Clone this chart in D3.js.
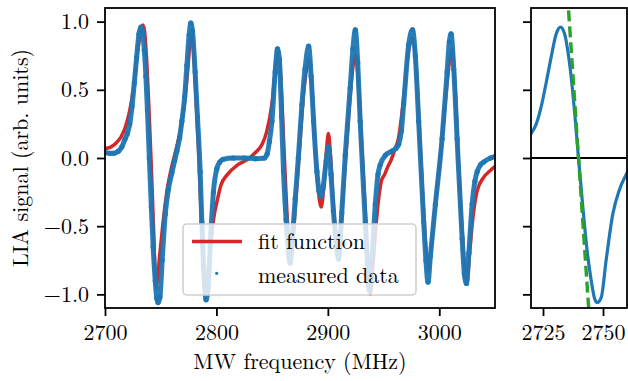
<!DOCTYPE html>
<html>
<head>
<meta charset="utf-8">
<script src="https://cdn.jsdelivr.net/npm/d3@7"></script>
<style>
  body { margin: 0; background: #fff; }
  svg { display: block; }
</style>
</head>
<body>
<div id="chart"></div>
<script>
const measFreq = [2700, 2704, 2708, 2712, 2715, 2718, 2720.1, 2722.2, 2724.3, 2726.3, 2728.4, 2730.5, 2732.3, 2734, 2735.3, 2736.7, 2738.1, 2739.8, 2741.6, 2743.2, 2745.1, 2746.5, 2747.6, 2749.3, 2751.3, 2754.1, 2756.9, 2760,
  2762.5, 2764.5, 2767, 2769, 2771.5, 2773.5, 2775.5, 2777, 2778.5, 2780.9, 2783, 2785.4, 2786.9, 2788.5, 2790.7, 2792.5, 2795, 2797.3, 2800.3, 2803, 2806, 2815, 2825, 2835, 2843,
  2845.5, 2847.5, 2849.8, 2852.7, 2854.8, 2856.5, 2858.5, 2860.2, 2862.5, 2866.2, 2868.5, 2870.7, 2873.5, 2876.7, 2879.5, 2882.7, 2885, 2887.2, 2890.2, 2892, 2894, 2896, 2898.5, 2900.7,
  2902.8, 2905, 2907.5, 2909.6, 2912.5, 2915.6, 2920, 2922.5, 2924.6, 2926.8, 2929, 2933.6, 2935.5, 2937.2, 2939.5, 2942.6, 2945, 2947, 2951.6, 2957.6, 2961, 2963.5, 2966, 2968,
  2972.5, 2976, 2978.5, 2981.5, 2986, 2988, 2989.9, 2992, 2996.5, 3002.5, 3007, 3009, 3010.6, 3013, 3016, 3020.5, 3022.5, 3024.4, 3026.5, 3029.5, 3032, 3034, 3037, 3039.9, 3046, 3050];
const measVal = [0.04, 0.035, 0.035, 0.05, 0.08, 0.14, 0.18, 0.25, 0.38, 0.55, 0.74, 0.91, 0.96, 0.91, 0.79, 0.60, 0.35, 0.0, -0.36, -0.65, -0.90, -1.03, -1.06, -1.02, -0.75, -0.41, -0.23, -0.11,
  -0.02, 0.05, 0.15, 0.27, 0.45, 0.68, 0.9, 0.99, 0.93, 0.63, 0.3, -0.10, -0.47, -0.8, -1.04, -0.95, -0.55, -0.25, -0.08, -0.03, -0.01, 0.0, 0.0, -0.005, 0.0,
  0.03, 0.12, 0.27, 0.63, 0.80, 0.72, 0.30, -0.10, -0.45, -0.77, -0.55, -0.30, 0.0, 0.39, 0.65, 0.82, 0.6, 0.27, -0.10, -0.24, -0.28, -0.2, -0.02, 0.08,
  -0.12, -0.39, -0.62, -0.74, -0.4, 0.02, 0.51, 0.80, 0.94, 0.7, 0.27, -0.47, -0.78, -0.97, -0.75, -0.34, -0.12, -0.05, 0.02, 0.05, 0.07, 0.1, 0.2, 0.39,
  0.83, 0.94, 0.75, 0.27, -0.47, -0.75, -0.91, -0.72, -0.34, 0.14, 0.63, 0.85, 0.91, 0.65, 0.14, -0.59, -0.85, -0.92, -0.7, -0.34, -0.17, -0.10, -0.05, -0.03, 0.0, 0.01];

// fit function
const fitFreq = [2700, 2705, 2710, 2714, 2718, 2722, 2726, 2729, 2732, 2734, 2735.5, 2737.5, 2739.5, 2741.5, 2743.5, 2745.8, 2747, 2749, 2752, 2756, 2760, 2764, 2768, 2771, 2774, 2776, 2777.5, 2779, 2781, 2784, 2786.5, 2788.5, 2790.2,
  2792, 2795, 2798, 2800.5, 2804, 2810, 2819, 2828, 2835, 2841, 2845, 2850, 2852.7, 2855.7, 2858, 2861, 2864, 2867, 2870, 2874, 2878, 2881, 2883, 2885.5, 2888, 2891, 2894, 2896.5, 2899, 2900.5,
  2902.5, 2905, 2908, 2910, 2913, 2916, 2920, 2923, 2925, 2927, 2930, 2934, 2936.5, 2938, 2940, 2942, 2945, 2948, 2951, 2954, 2956, 2960, 2963.5, 2968, 2972, 2976, 2978, 2981, 2985, 2988, 2990,
  2992, 2996, 3002, 3007, 3010, 3011.5, 3014, 3017, 3021, 3023, 3024.8, 3027, 3030, 3034, 3040, 3046, 3050];
const fitVal = [0.07, 0.08, 0.11, 0.15, 0.22, 0.34, 0.54, 0.76, 0.93, 0.976, 0.93, 0.7, 0.35, -0.05, -0.5, -0.95, -0.9, -0.72, -0.48, -0.22, -0.06, 0.07, 0.22, 0.38, 0.62, 0.82, 0.92, 0.85, 0.55, 0.05, -0.45, -0.82, -0.98,
  -0.9, -0.62, -0.42, -0.32, -0.2, -0.12, -0.05, -0.01, 0.04, 0.1, 0.19, 0.41, 0.63, 0.78, 0.55, 0.0, -0.5, -0.72, -0.45, 0.0, 0.45, 0.66, 0.73, 0.55, 0.15, -0.2, -0.36, -0.2, 0.08, 0.18,
  0.0, -0.35, -0.62, -0.7, -0.35, 0.0, 0.45, 0.7, 0.76, 0.6, 0.15, -0.45, -0.85, -1.0, -0.85, -0.62, -0.34, -0.17, -0.12, -0.06, -0.03, 0.06, 0.15, 0.44, 0.76, 0.88, 0.8, 0.4, -0.25, -0.65, -0.83,
  -0.72, -0.38, 0.1, 0.55, 0.76, 0.80, 0.55, 0.0, -0.6, -0.82, -0.91, -0.72, -0.45, -0.24, -0.14, -0.09, -0.06];

// linear slope through the first zero crossing (zoom panel)
const slopeFreq = [2735.2, 2744.4];
const slopeVal = [1.2, -1.2];

const yTicks = [-1.0, -0.5, 0.0, 0.5, 1.0];
const xTicksMain = [2700, 2800, 2900, 3000];
const xTicksZoom = [2725, 2750];
const legendLabels = ['fit function', 'measured data'];

const FONT = '"Latin Modern Roman", "Liberation Serif", serif';
const W = 628, H = 381;
const main = { left: 105, right: 495, top: 8, bottom: 308 };
const zoom = { left: 531, right: 627, top: 8, bottom: 308 };

const svg = d3.select('#chart').append('svg')
  .attr('width', W)
  .attr('height', H);

svg.append('rect').attr('width', W).attr('height', H).attr('fill', '#fff');

const y = d3.scaleLinear().domain([-1.1, 1.1]).range([main.bottom, main.top]);
const xMain = d3.scaleLinear().domain([2700, 3050]).range([main.left, main.right]);
const xZoom = d3.scaleLinear().domain([2720, 2760]).range([zoom.left, zoom.right]);

const defs = svg.append('defs');
defs.append('clipPath').attr('id', 'clipMain').append('rect')
  .attr('x', main.left).attr('y', main.top)
  .attr('width', main.right - main.left).attr('height', main.bottom - main.top);
defs.append('clipPath').attr('id', 'clipZoom').append('rect')
  .attr('x', zoom.left).attr('y', zoom.top)
  .attr('width', zoom.right - zoom.left).attr('height', zoom.bottom - zoom.top);

const meas = measFreq.map((f, i) => [f, measVal[i]]);
const fit = fitFreq.map((f, i) => [f, fitVal[i]]);

function styleAxis(g, showLabels) {
  g.attr('font-family', FONT).attr('font-size', 22);
  g.select('.domain').remove();
  g.selectAll('.tick line').attr('stroke', '#000').attr('stroke-width', 1.8);
  g.selectAll('.tick text').attr('fill', '#000');
  if (!showLabels) g.selectAll('.tick text').remove();
}

// ---- main panel ----
const gMain = svg.append('g').attr('clip-path', 'url(#clipMain)');

gMain.append('path')
  .datum(fit)
  .attr('fill', 'none')
  .attr('stroke', '#d62728')
  .attr('stroke-width', 3.5)
  .attr('d', d3.line().x(d => xMain(d[0])).y(d => y(d[1])).curve(d3.curveMonotoneX));

gMain.append('path')
  .datum(meas)
  .attr('fill', 'none')
  .attr('stroke', '#1f77b4')
  .attr('stroke-width', 5)
  .attr('stroke-opacity', 0.95)
  .attr('d', d3.line().x(d => xMain(d[0])).y(d => y(d[1])).curve(d3.curveMonotoneX));

gMain.selectAll('.pt')
  .data(meas)
  .enter().append('circle')
  .attr('class', 'pt')
  .attr('cx', d => xMain(d[0]))
  .attr('cy', d => y(d[1]))
  .attr('r', 2.6)
  .attr('fill', '#1f77b4');

svg.append('g')
  .attr('transform', 'translate(' + main.left + ',0)')
  .call(d3.axisLeft(y).tickValues(yTicks).tickSize(8).tickPadding(8).tickFormat(d3.format('.1f')))
  .call(g => styleAxis(g, true));

svg.append('g')
  .attr('transform', 'translate(0,' + main.bottom + ')')
  .call(d3.axisBottom(xMain).tickValues(xTicksMain).tickSize(8).tickPadding(8).tickFormat(d3.format('d')))
  .call(g => styleAxis(g, true));

// legend
const leg = svg.append('g');
leg.append('rect')
  .attr('x', 183).attr('y', 224)
  .attr('width', 233).attr('height', 71)
  .attr('rx', 4)
  .attr('fill', '#fff').attr('fill-opacity', 0.8)
  .attr('stroke', '#d0d0d0').attr('stroke-width', 1.6);
leg.append('line')
  .attr('x1', 192).attr('x2', 242)
  .attr('y1', 241.5).attr('y2', 241.5)
  .attr('stroke', '#d62728').attr('stroke-width', 3.5);
leg.append('circle')
  .attr('cx', 216.7).attr('cy', 273.3).attr('r', 1.6)
  .attr('fill', '#1f77b4');
leg.selectAll('.lt')
  .data(legendLabels)
  .enter().append('text')
  .attr('class', 'lt')
  .attr('x', 258)
  .attr('y', (d, i) => 249 + i * 34)
  .attr('font-family', FONT)
  .attr('font-size', 22)
  .attr('fill', '#000')
  .text(d => d);

svg.append('rect')
  .attr('x', main.left).attr('y', main.top)
  .attr('width', main.right - main.left).attr('height', main.bottom - main.top)
  .attr('fill', 'none').attr('stroke', '#000').attr('stroke-width', 1.8);

// ---- zoom panel ----
const gZoom = svg.append('g').attr('clip-path', 'url(#clipZoom)');

gZoom.append('line')
  .attr('x1', zoom.left).attr('x2', zoom.right)
  .attr('y1', y(0)).attr('y2', y(0))
  .attr('stroke', '#000').attr('stroke-width', 2);

gZoom.append('path')
  .datum(meas)
  .attr('fill', 'none')
  .attr('stroke', '#1f77b4')
  .attr('stroke-width', 3.2)
  .attr('d', d3.line().x(d => xZoom(d[0])).y(d => y(d[1])).curve(d3.curveMonotoneX));

gZoom.append('path')
  .datum(slopeFreq.map((f, i) => [f, slopeVal[i]]))
  .attr('fill', 'none')
  .attr('stroke', '#2ca02c')
  .attr('stroke-width', 3.4)
  .attr('stroke-dasharray', '11,5')
  .attr('d', d3.line().x(d => xZoom(d[0])).y(d => y(d[1])));

svg.append('g')
  .attr('transform', 'translate(' + zoom.left + ',0)')
  .call(d3.axisLeft(y).tickValues(yTicks).tickSize(8))
  .call(g => styleAxis(g, false));

svg.append('g')
  .attr('transform', 'translate(0,' + zoom.bottom + ')')
  .call(d3.axisBottom(xZoom).tickValues(xTicksZoom).tickSize(8).tickPadding(8).tickFormat(d3.format('d')))
  .call(g => styleAxis(g, true));

svg.append('rect')
  .attr('x', zoom.left).attr('y', zoom.top)
  .attr('width', zoom.right - zoom.left).attr('height', zoom.bottom - zoom.top)
  .attr('fill', 'none').attr('stroke', '#000').attr('stroke-width', 1.8);

// axis labels
svg.append('text')
  .attr('x', (main.left + main.right) / 2)
  .attr('y', 369)
  .attr('text-anchor', 'middle')
  .attr('font-family', FONT)
  .attr('font-size', 22)
  .attr('fill', '#000')
  .text('MW frequency (MHz)');

svg.append('text')
  .attr('transform', 'translate(28,' + y(0) + ') rotate(-90)')
  .attr('text-anchor', 'middle')
  .attr('font-family', FONT)
  .attr('font-size', 22)
  .attr('fill', '#000')
  .text('LIA signal (arb. units)');
</script>
</body>
</html>
